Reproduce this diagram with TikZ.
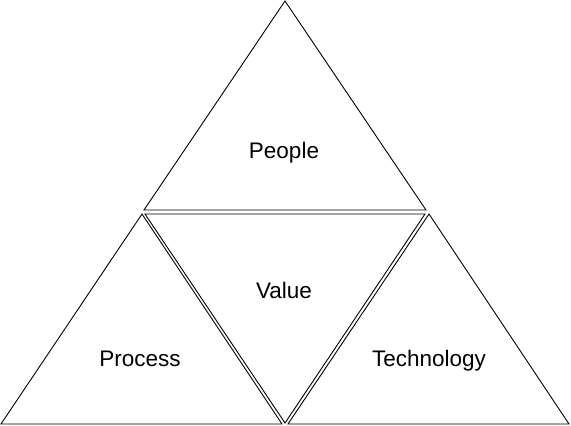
\documentclass[tikz,border=0pt]{standalone}
\usepackage{fontspec}
\setmainfont{Liberation Sans}
\usetikzlibrary{positioning}
\tikzstyle{tri} = [draw, line width=0.9pt, line join=miter]
\tikzstyle{word} = [font=\fontsize{22.5}{27}\selectfont, anchor=base, inner sep=0pt]

\begin{document}
\begin{tikzpicture}[x=1pt, y=-1pt]
    \useasboundingbox (0,0) rectangle (571,426);
    % the four triangles
    \draw [tri] (285,1) -- (426,210) -- (144,210) -- cycle;
    \draw [tri] (145,214) -- (425,214) -- (285,423) -- cycle;
    \draw [tri] (142,214) -- (282,424) -- (1,424) -- cycle;
    \draw [tri] (429,214) -- (569,424) -- (288,424) -- cycle;

    \node (People) [word] at (284,158) {People};
    \node (Value) [word] at (284,298) {Value};
    \node (Process) [word] at (140,366) {Process};
    \node (Technology) [word] at (429,366) {Technology};
\end{tikzpicture}
\end{document}
